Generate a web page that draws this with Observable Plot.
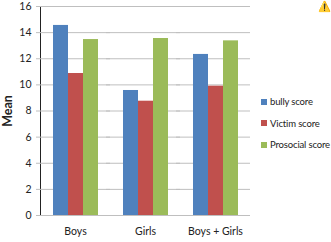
<!DOCTYPE html>
<html><head><meta charset="utf-8">
<script src="https://cdn.jsdelivr.net/npm/d3@7"></script>
<script src="https://cdn.jsdelivr.net/npm/@observablehq/plot@0.6"></script>
<style>
body{margin:0;background:#fff}
#wrap{position:relative;width:331px;height:242px;font-family:Lato,"Open Sans",sans-serif;color:#222}
#ylab{position:absolute;left:7px;top:111px;transform:translate(-50%,-50%) rotate(-90deg);font-weight:bold;font-size:12.5px;white-space:nowrap}
#legend{position:absolute;left:261px;top:91px;font-size:9.5px;letter-spacing:-0.15px;z-index:2}
.item{display:flex;align-items:center;height:21.5px;white-space:nowrap}
.sw{width:6px;height:6px;margin-right:3px;flex:none}
</style></head><body><div id="wrap"><div id="ylab">Mean</div><div id="legend"></div></div>
<script>
const groups = ["Boys","Girls","Boys + Girls"];
const series = ["bully score","Victim score","Prosocial score"];
const bully = [14.55, 9.57, 12.33];
const victim = [10.87, 8.75, 9.9];
const prosocial = [13.47, 13.55, 13.37];
const colors = ["#4F81BD","#C0504D","#9BBB59"];
const yTicks = [0,2,4,6,8,10,12,14,16];
const data = [];
groups.forEach((g,i)=>{[bully,victim,prosocial].forEach((arr,j)=>data.push({group:g,series:series[j],value:arr[i]}));});
const chart = Plot.plot({
  width:331,height:242,marginLeft:39,marginRight:81,marginTop:6,marginBottom:27,
  style:{fontFamily:"Lato, 'Open Sans', sans-serif",fontSize:"10.5px",color:"#222",background:"transparent"},
  facet:{data, x:"group"},
  fx:{domain:groups,padding:0,label:null,tickSize:0,tickPadding:12},
  x:{domain:series,paddingInner:0,paddingOuter:0.745,axis:null},
  y:{domain:[0,16],ticks:yTicks,tickSize:0,tickPadding:9,label:null,line:true},
  color:{domain:series,range:colors},
  marks:[
    Plot.ruleY(yTicks,{stroke:"#bfbfbf",insetLeft:-4}),
    Plot.barY(data,{x:"series",y:"value",fill:"series"})
  ]
});
d3.select(chart).selectAll('[aria-label^="y-axis"] path, [aria-label^="y-axis"] line').attr("stroke","#bfbfbf");
document.getElementById("wrap").appendChild(chart);
const lg = d3.select("#legend");
series.forEach((s,i)=>{
  const it = lg.append("div").attr("class","item");
  it.append("div").attr("class","sw").style("background",colors[i]);
  it.append("span").text(s);
});
</script></body></html>
